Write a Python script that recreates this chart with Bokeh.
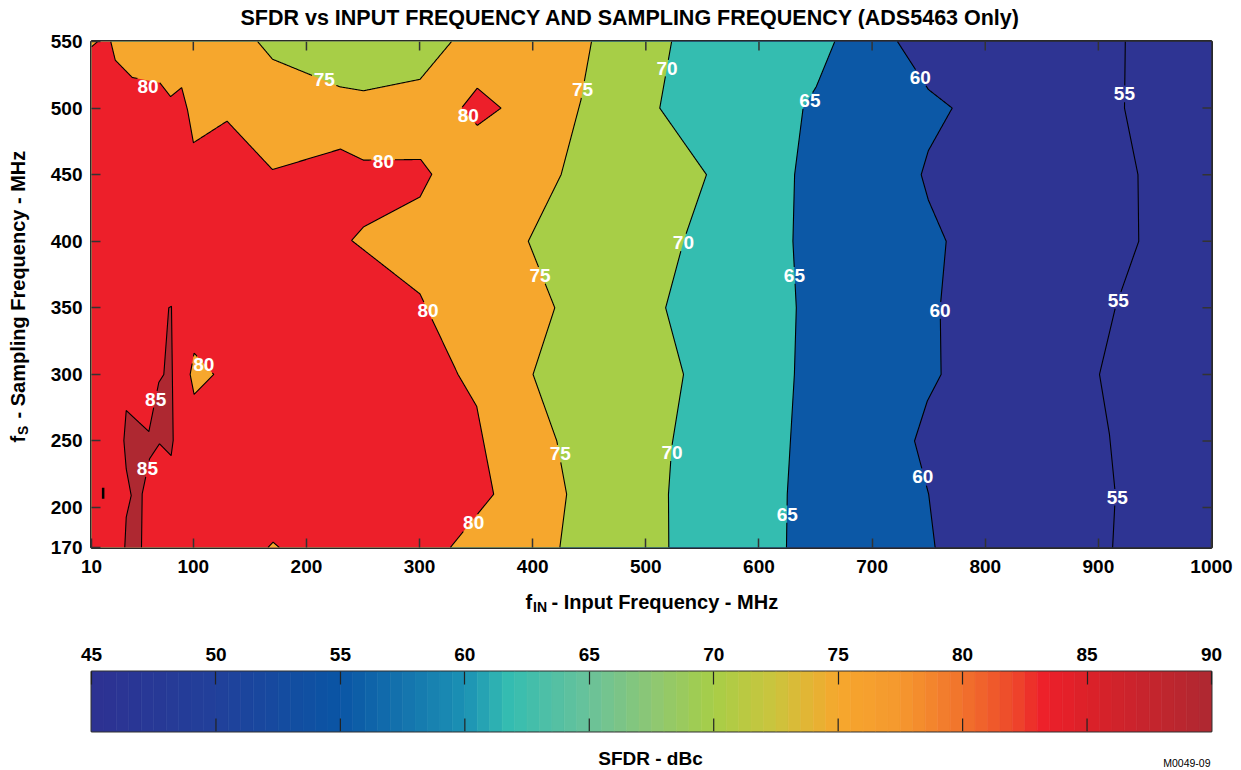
import numpy as np
from bokeh.plotting import figure
from bokeh.layouts import column, row
from bokeh.models import Range1d, FixedTicker, ColumnDataSource
from bokeh.core.properties import value
from bokeh.embed import file_html
from bokeh.resources import INLINE

# ---------------- data ----------------
TITLE = "SFDR vs INPUT FREQUENCY AND SAMPLING FREQUENCY (ADS5463 Only)"
X_TITLE = ["f", "IN", "- Input Frequency - MHz"]
Y_TITLE = ["f", "S", "- Sampling Frequency - MHz"]
CB_TITLE = "SFDR - dBc"
FIG_ID = "M0049-09"
X_TICKS = [10, 100, 200, 300, 400, 500, 600, 700, 800, 900, 1000]
Y_TICKS = [170, 200, 250, 300, 350, 400, 450, 500, 550]
CB_TICKS = [45, 50, 55, 60, 65, 70, 75, 80, 85, 90]

# contour lines: fIN (MHz) and fS (MHz), ordered top -> bottom
c55_fin = [923.8, 923.1, 935.0, 935.7, 915.0, 901.0, 909.8, 915.0, 912.6]
c55_fs = [550, 500, 450, 400, 350, 300, 255, 210, 170]
c60_fin = [722.4, 749.7, 770.8, 749.7, 743.4, 749.7, 765.5, 760.2, 761.0, 748.8, 737.5, 750.0, 755.7]
c60_fs = [550, 514, 500, 468, 450, 431, 400, 350, 300, 280, 250, 210, 170]
c65_fin = [667.0, 650.6, 639.0, 631.5, 630.0, 633.0, 631.3, 627.8, 625.0, 624.3]
c65_fs = [550, 516, 500, 450, 400, 350, 300, 250, 210, 170]
c70_fin = [522.8, 512.3, 553.6, 533.3, 517.5, 533.3, 522.8, 520.0, 520.3]
c70_fs = [550, 500, 450, 400, 350, 300, 245, 210, 170]
c75_fin = [452.0, 442.6, 425.1, 396.1, 419.5, 400.3, 421.3, 430.0, 424.0]
c75_fs = [550, 506, 450, 400, 350, 300, 250, 210, 170]
c75top_fin = [156.8, 170.0, 229.4, 250.4, 300.4, 328.3]
c75top_fs = [550, 536.7, 516, 513, 521.6, 550]
c80_fin = [27.0, 31.0, 46.0, 70.4, 79.9, 89.7, 94.9, 100.1, 129.8, 170.0, 230.1, 250.4,
           301.0, 310.8, 300.4, 250.4, 239.9, 300.4, 334.1, 350.5, 365.5, 327.2]
c80_fs = [550, 536, 523, 519, 508.6, 515.4, 498.5, 474, 490.2, 453.8, 469.2, 460.9,
          461.4, 450.3, 433.3, 410.7, 400.6, 360.4, 299.8, 276, 210, 170]
c80corner_fin = [15.5, 10.0]
c80corner_fs = [550, 546]
isl80_fin = [100.7, 97.2, 100.7, 118.1]
isl80_fs = [316, 300, 285, 300]
isl80b_fin = [166.0, 170.5, 176.0]
isl80b_fs = [170, 174, 170]
dia80_fin = [351.0, 372.0, 351.0, 337.0]
dia80_fs = [515, 500, 487, 500]
c85_fin = [39.4, 40.7, 45.1, 40.7, 38.6, 40.7, 51.8, 60.7, 69.5, 73.9, 78.3, 80.7,
           82.2, 80.4, 70.1, 61.3, 54.8, 54.2]
c85_fs = [170, 192.8, 209, 229, 250.4, 272.9, 264.1, 257.1, 294, 299.9, 350, 351.2,
          250.4, 239, 247.9, 236.6, 210.3, 170]
mark_fin = [20.3, 20.3]
mark_fs = [206.6, 214.8]

label_text = ["80", "75", "80", "80", "75", "70", "65", "60", "55",
              "80", "75", "70", "65", "60", "55",
              "80", "85", "85",
              "75", "70", "65", "60", "55", "80"]
label_fin = [60.0, 215.8, 268.0, 343.0, 444.0, 518.8, 645.0, 742.6, 923.0,
             307.5, 406.5, 533.2, 631.3, 760.0, 917.6,
             109.2, 66.7, 59.4,
             424.3, 523.2, 625.1, 744.8, 916.7, 347.8]
label_fs = [516.2, 521.8, 460.0, 494.6, 513.8, 529.8, 505.5, 522.8, 510.8,
            348.2, 374.5, 399.0, 374.6, 348.0, 355.6,
            307.4, 281.1, 229.2,
            240.5, 241.0, 195.0, 223.0, 207.8, 188.5]

# colour bar stops (SFDR dBc -> colour)
cb_vals = [45, 50, 55, 57.5, 60, 61.8, 65, 67.5, 70, 72.5, 75, 77.5, 80, 82, 83.3, 85, 90]
cb_cols = ["#2E3192", "#21409A", "#0A55A5", "#1473AD", "#1B91B4", "#35BDB1", "#69C29A",
           "#8DC774", "#A7CE47", "#CCC43D", "#F6A72D", "#F5982E", "#F1722C", "#EE4A2B",
           "#ED1F2A", "#DC2129", "#AE2831"]

# region fill colours
NAVY, BLUE, TEAL, LIME = "#2E3493", "#0C58A6", "#34BDB0", "#A7CE47"
ORANGE, RED, DARKRED = "#F6A72D", "#ED1F2A", "#AE2831"

FONT = "Liberation Sans"
X0, X1 = X_TICKS[0], X_TICKS[-1]
Y0, Y1 = Y_TICKS[0], Y_TICKS[-1]

# ---------------- layout constants (pixels) ----------------
YT_W = 40                      # y-title strip width
FRAME_W, FRAME_H = 1120, 506
P_LEFT, P_RIGHT, P_TOP, P_BOTTOM = 51, 29, 12, 40
L_ALL = YT_W + P_LEFT          # 91 : page x of every frame's left edge
TITLE_H = 29
XT_H = 33
CB_TOP, CB_H, CB_BOTTOM = 51, 60, 3
CBT_H = 35
TICK_LEN = 9


def text_fig(h, top_page):
    """Strip whose frame spans page x 91..1211; data coords are page pixels."""
    f = figure(width=L_ALL + FRAME_W + P_RIGHT, height=h, frame_width=FRAME_W, frame_height=h,
               min_border_left=L_ALL, min_border_right=P_RIGHT, min_border_top=0,
               min_border_bottom=0,
               x_range=Range1d(L_ALL, L_ALL + FRAME_W),
               y_range=Range1d(top_page + h, top_page),
               output_backend="svg", toolbar_location=None)
    f.axis.visible = False
    f.grid.visible = False
    f.outline_line_color = None
    f.background_fill_color = "white"
    f.border_fill_color = "white"
    return f


def put_text(f, xs, ys, texts, size, angle=0.0, align="left", bold=True, color="black"):
    f.text(x=xs, y=ys, text=texts, text_font=value(FONT),
           text_font_style="bold" if bold else "normal", text_font_size=size,
           angle=angle, text_align=align, text_baseline="middle", text_color=color)


# ---------------- main contour plot ----------------
p = figure(width=P_LEFT + FRAME_W + P_RIGHT, height=P_TOP + FRAME_H + P_BOTTOM,
           frame_width=FRAME_W, frame_height=FRAME_H,
           min_border_left=P_LEFT, min_border_right=P_RIGHT,
           min_border_top=P_TOP, min_border_bottom=P_BOTTOM,
           x_range=Range1d(X0, X1), y_range=Range1d(Y0, Y1),
           output_backend="svg", toolbar_location=None)
p.xgrid.visible = False
p.ygrid.visible = False
p.outline_line_color = "#2a2a2a"
p.outline_line_width = 3
p.border_fill_color = "white"


def left_poly(fx, fy):
    return list(fx) + [X0, X0], list(fy) + [Y0, Y1]


p.quad(left=[X0], right=[X1], bottom=[Y0], top=[Y1], fill_color=NAVY, line_color=None)
for (fx, fy), col in [(left_poly(c60_fin, c60_fs), BLUE),
                      (left_poly(c65_fin, c65_fs), TEAL),
                      (left_poly(c70_fin, c70_fs), LIME),
                      (left_poly(c75_fin, c75_fs), ORANGE),
                      ((c75top_fin, c75top_fs), LIME),
                      ((list(c80_fin) + [X0] + c80corner_fin[::-1],
                        list(c80_fs) + [Y0] + c80corner_fs[::-1]), RED),
                      ((isl80_fin, isl80_fs), ORANGE),
                      ((isl80b_fin, isl80b_fs), ORANGE),
                      ((dia80_fin, dia80_fs), RED),
                      ((c85_fin, c85_fs), DARKRED)]:
    p.patch(list(fx), list(fy), fill_color=col, line_color=None)

UX = (X1 - X0) / FRAME_W   # data units per pixel
UY = (Y1 - Y0) / FRAME_H
GX = 11.5 * UX
GY = 8.0 * UY


def gapped(fx, fy, closed=False):
    fx = list(fx)
    fy = list(fy)
    if closed:
        fx = fx + [fx[0]]
        fy = fy + [fy[0]]
    xs, ys = [], []
    for i in range(len(fx) - 1):
        t = np.linspace(0, 1, 80, endpoint=False)
        xs.append(fx[i] + (fx[i + 1] - fx[i]) * t)
        ys.append(fy[i] + (fy[i + 1] - fy[i]) * t)
    xs.append(np.array([fx[-1]]))
    ys.append(np.array([fy[-1]]))
    xs = np.concatenate(xs)
    ys = np.concatenate(ys)
    m = np.zeros(len(xs), dtype=bool)
    for lx, ly in zip(label_fin, label_fs):
        m |= (np.abs(xs - lx) < GX) & (np.abs(ys - ly) < GY)
    xs[m] = np.nan
    ys[m] = np.nan
    return xs, ys


for fx, fy, cl in [(c55_fin, c55_fs, False), (c60_fin, c60_fs, False),
                   (c65_fin, c65_fs, False), (c70_fin, c70_fs, False),
                   (c75_fin, c75_fs, False), (c75top_fin, c75top_fs, False),
                   (c80_fin, c80_fs, False), (c80corner_fin, c80corner_fs, False),
                   (isl80_fin, isl80_fs, True), (isl80b_fin, isl80b_fs, False),
                   (dia80_fin, dia80_fs, True), (c85_fin, c85_fs, False)]:
    gx, gy = gapped(fx, fy, cl)
    p.line(gx, gy, line_color="black", line_width=1.1)

p.line(mark_fin, mark_fs, line_color="black", line_width=2.5)

lsrc = ColumnDataSource(dict(x=label_fin, y=label_fs, t=label_text))
p.text(x="x", y="y", text="t", source=lsrc, text_font=value(FONT), text_font_style="bold",
       text_font_size="19px", text_color="white", text_align="center", text_baseline="middle")

for ax, ticks in ((p.xaxis[0], X_TICKS), (p.yaxis[0], Y_TICKS)):
    ax.ticker = FixedTicker(ticks=ticks)
    ax.major_tick_in = TICK_LEN
    ax.major_tick_out = 0
    ax.minor_tick_line_color = None
    ax.axis_line_color = None
    ax.major_tick_line_color = "#333333"
    ax.major_tick_line_width = 1.5
    ax.major_label_text_font = FONT
    ax.major_label_text_font_style = "bold"
    ax.major_label_text_font_size = "19px"
    ax.major_label_text_color = "black"
p.xaxis[0].major_label_standoff = 12
p.yaxis[0].major_label_standoff = 9

# inward ticks on the top and right edges
inner_x = X_TICKS[1:-1]
inner_y = Y_TICKS[1:-1]
p.segment(x0=inner_x, y0=[Y1] * len(inner_x), x1=inner_x, y1=[Y1 - TICK_LEN * UY] * len(inner_x),
          line_color="#333333", line_width=1.5)
p.segment(x0=[X1] * len(inner_y), y0=inner_y, x1=[X1 - TICK_LEN * UX] * len(inner_y), y1=inner_y,
          line_color="#333333", line_width=1.5)

# ---------------- y-title strip (same vertical structure as p) ----------------
MAIN_TOP = TITLE_H
yt_fig = figure(width=YT_W, height=P_TOP + FRAME_H + P_BOTTOM, frame_width=YT_W,
                frame_height=FRAME_H, min_border_left=0, min_border_right=0,
                min_border_top=P_TOP, min_border_bottom=P_BOTTOM,
                x_range=Range1d(0, YT_W),
                y_range=Range1d(MAIN_TOP + P_TOP + FRAME_H, MAIN_TOP + P_TOP),
                output_backend="svg", toolbar_location=None)
yt_fig.axis.visible = False
yt_fig.grid.visible = False
yt_fig.outline_line_color = None
yt_fig.border_fill_color = "white"
put_text(yt_fig, [17.5], [442], [Y_TITLE[0]], "20px", angle=np.pi / 2)
put_text(yt_fig, [22.5], [434.5], [Y_TITLE[1]], "14px", angle=np.pi / 2)
put_text(yt_fig, [17.5], [418], [Y_TITLE[2]], "20px", angle=np.pi / 2)

# ---------------- title strip ----------------
title_fig = text_fig(TITLE_H, 0)
put_text(title_fig, [630], [17], [TITLE], "21.5px", align="center")

# ---------------- x-title strip ----------------
xt_top = TITLE_H + P_TOP + FRAME_H + P_BOTTOM
xt_fig = text_fig(XT_H, xt_top)
put_text(xt_fig, [525], [601.5], [X_TITLE[0]], "20px")
put_text(xt_fig, [532.5], [606.5], [X_TITLE[1]], "14px")
put_text(xt_fig, [551], [601.5], [X_TITLE[2]], "20px")

# ---------------- colour bar ----------------
p2 = figure(width=L_ALL + FRAME_W + P_RIGHT, height=CB_TOP + CB_H + CB_BOTTOM,
            frame_width=FRAME_W, frame_height=CB_H,
            min_border_left=L_ALL, min_border_right=P_RIGHT,
            min_border_top=CB_TOP, min_border_bottom=CB_BOTTOM,
            x_range=Range1d(CB_TICKS[0], CB_TICKS[-1]), y_range=Range1d(0, 1),
            x_axis_location="above", output_backend="svg", toolbar_location=None)
p2.xgrid.visible = False
p2.ygrid.visible = False
p2.yaxis.visible = False
p2.outline_line_color = "#333333"
p2.outline_line_width = 2
p2.border_fill_color = "white"


def hex2rgb(h):
    return np.array([int(h[i:i + 2], 16) for i in (1, 3, 5)], dtype=float)


stop_rgb = np.array([hex2rgb(c) for c in cb_cols])
edges = np.arange(CB_TICKS[0], CB_TICKS[-1] + 0.001, 0.5)
mids = (edges[:-1] + edges[1:]) / 2
cols = []
for m in mids:
    rgb = [np.interp(m, cb_vals, stop_rgb[:, k]) for k in range(3)]
    cols.append("#%02x%02x%02x" % tuple(int(round(v)) for v in rgb))
p2.quad(left=edges[:-1], right=edges[1:], bottom=0, top=1, fill_color=cols, line_color=cols,
        line_width=0.6)

ax_top = p2.xaxis[0]
ax_top.ticker = FixedTicker(ticks=CB_TICKS)
ax_top.major_tick_in = 13
ax_top.major_tick_out = 0
ax_top.minor_tick_line_color = None
ax_top.axis_line_color = None
ax_top.major_tick_line_color = "#222222"
ax_top.major_tick_line_width = 1.2
ax_top.major_label_text_font = FONT
ax_top.major_label_text_font_style = "bold"
ax_top.major_label_text_font_size = "19px"
ax_top.major_label_text_color = "black"
ax_top.major_label_standoff = 11
cb_inner = CB_TICKS[1:-1]
p2.segment(x0=cb_inner, y0=[0] * len(cb_inner), x1=cb_inner, y1=[13 / CB_H] * len(cb_inner),
           line_color="#222222", line_width=1.2)

# ---------------- colour-bar title strip ----------------
cbt_top = xt_top + XT_H + CB_TOP + CB_H + CB_BOTTOM
cbt_fig = text_fig(CBT_H, cbt_top)
put_text(cbt_fig, [650], [757.5], [CB_TITLE], "19px", align="center")
put_text(cbt_fig, [L_ALL + FRAME_W - 1], [762.5], [FIG_ID], "10.5px", align="right", bold=False)

layout = column(title_fig, row(yt_fig, p), xt_fig, p2, cbt_fig)
open("out.html", "w").write(file_html(layout, INLINE))
